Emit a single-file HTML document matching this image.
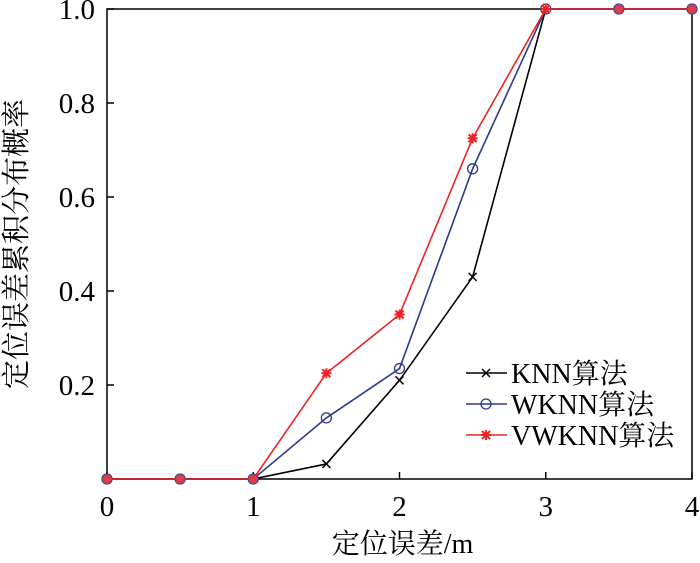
<!DOCTYPE html>
<html><head><meta charset="utf-8"><style>
body{margin:0;background:#fff;}
svg text{font-family:"Liberation Serif","Noto Serif CJK SC",serif;fill:#000;}
</style></head><body>
<svg id="chart" width="700" height="558" xmlns="http://www.w3.org/2000/svg"></svg>
<script>
const xValues=[0,0.5,1,1.5,2,2.5,3,3.5,4];
const knn=[0,0,0,0.032,0.21,0.43,1,1,1];
const wknn=[0,0,0,0.13,0.235,0.66,1,1,1];
const vwknn=[0,0,0,0.225,0.35,0.725,1,1,1];
const xTicks=[0,1,2,3,4];
const yTicks=[0.2,0.4,0.6,0.8,1.0];
const yTickLabels=["0.2","0.4","0.6","0.8","1.0"];
const seriesNames=["KNN算法","WKNN算法","VWKNN算法"];

const L=107,R=692,T=9,B=479;
const sx=v=>L+(v-0)/4*(R-L);
const sy=v=>B-v*(B-T);
const svg=document.getElementById('chart');
const NS="http://www.w3.org/2000/svg";
function mk(tag,attrs,parent){const e=document.createElementNS(NS,tag);for(const k in attrs)e.setAttribute(k,attrs[k]);(parent||svg).appendChild(e);return e;}

const frame=mk('rect',{x:L,y:T,width:R-L,height:B-T,fill:'none',stroke:'#000','stroke-width':1.5});



xTicks.forEach(t=>{
  const l=mk('line',{x1:sx(t),x2:sx(t),y1:B,y2:B-7,stroke:'#000','stroke-width':1.5});
  
  
  const tx=mk('text',{x:sx(t),y:B+37,'font-size':29,'text-anchor':'middle'});
  tx.textContent=t;
  
  
});
yTicks.forEach((t,i)=>{
  const l=mk('line',{x1:L,x2:L+7,y1:sy(t),y2:sy(t),stroke:'#000','stroke-width':1.5});
  
  
  const tx=mk('text',{x:L-12,y:sy(t)+10,'font-size':29,'text-anchor':'end'});
  tx.textContent=yTickLabels[i];
  
  
});

const xl=mk('text',{x:sx(2)+3,y:553,'font-size':28,'text-anchor':'middle'});
xl.textContent='定位误差/m';


const yl=mk('text',{x:0,y:0,'font-size':29,'text-anchor':'middle',transform:'translate(26,244) rotate(-90)'});
yl.textContent='定位误差累积分布概率';



function marker(kind,x,y,color,g){
  if(kind==='x'){
    mk('path',{d:`M${x-4},${y-4}L${x+4},${y+4}M${x-4},${y+4}L${x+4},${y-4}`,stroke:color,'stroke-width':1.5},g);
  }else if(kind==='o'){
    mk('circle',{cx:x,cy:y,r:5,fill:'none',stroke:color,'stroke-width':1.3},g);
  }else{
    mk('path',{d:`M${x-5},${y}L${x+5},${y}M${x},${y-5}L${x},${y+5}M${x-4},${y-4}L${x+4},${y+4}M${x-4},${y+4}L${x+4},${y-4}`,stroke:color,'stroke-width':2},g);
  }
}
const series=[[knn,'#000','x'],[wknn,'#2c3a8c','o'],[vwknn,'#ee2222','*']];
series.forEach((s,si)=>{
  const g=mk('g',{});
  
  
  const pts=xValues.map((x,i)=>sx(x)+','+sy(s[0][i])).join(' ');
  mk('polyline',{points:pts,fill:'none',stroke:s[1],'stroke-width':1.6},g);
  xValues.forEach((x,i)=>marker(s[2],sx(x),sy(s[0][i]),s[1],g));
});
xValues.forEach((x,i)=>{
  if(knn[i]===wknn[i]&&wknn[i]===vwknn[i]&&(knn[i]===0||x>3)){
    const c=mk('circle',{cx:sx(x),cy:sy(vwknn[i]),r:4.5,fill:'#e83a3a',stroke:'#5a5aa0','stroke-width':1});
    
    
  }
});

const lg=mk('g',{});


series.forEach((s,i)=>{
  const y=373+i*31;
  mk('line',{x1:466,x2:507,y1:y,y2:y,stroke:s[1],'stroke-width':1.6},lg);
  marker(s[2],486,y,s[1],lg);
  const t=mk('text',{x:511,y:y+10,'font-size':28},lg);
  t.textContent=seriesNames[i];
  
  
});
</script>
</body></html>
